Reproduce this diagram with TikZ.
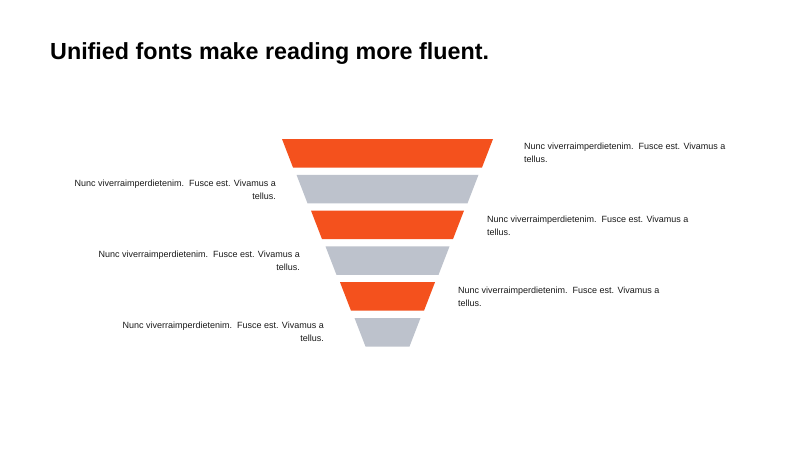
\documentclass[tikz,border=0pt]{standalone}
\usepackage{fontspec}
\setmainfont{Liberation Sans}
\definecolor{funnelorange}{RGB}{244,81,29}
\definecolor{funnelgray}{RGB}{189,194,204}
\begin{document}
\begin{tikzpicture}[x=1pt,y=-1pt,
  bodytext/.style={inner sep=0pt,font=\fontsize{9}{12.8}\selectfont,text=black!90},
  righttext/.style={bodytext,anchor=west,align=left},
  lefttext/.style={bodytext,anchor=east,align=right},
  titletext/.style={inner sep=0pt,anchor=base west,font=\fontsize{23.3}{28}\selectfont\bfseries}]
\useasboundingbox[fill=white] (0,0) rectangle (800,450);
\node[titletext] (title) at (50,59) {Unified fonts make reading more fluent.};
% funnel layers
\foreach \i/\col in {0/funnelorange,1/funnelgray,2/funnelorange,3/funnelgray,4/funnelorange,5/funnelgray}{
  \pgfmathsetmacro{\ytop}{139+35.8*\i}
  \pgfmathsetmacro{\ybot}{\ytop+28.5}
  \pgfmathsetmacro{\wt}{105.5-14.5*\i}
  \pgfmathsetmacro{\wb}{\wt-11}
  \fill[\col] (387.5-\wt,\ytop) -- (387.5+\wt,\ytop) -- (387.5+\wb,\ybot) -- (387.5-\wb,\ybot) -- cycle;
  \coordinate (layer\i) at (387.5,\ytop+14.25);
}
\node[righttext] (t1) at (524,153) {Nunc viverraimperdietenim.\ \ Fusce est. Vivamus a\\tellus.};
\node[lefttext] (t2) at (276,189.5) {Nunc viverraimperdietenim.\ \ Fusce est. Vivamus a\\tellus.};
\node[righttext] (t3) at (487,225.5) {Nunc viverraimperdietenim.\ \ Fusce est. Vivamus a\\tellus.};
\node[lefttext] (t4) at (300,261) {Nunc viverraimperdietenim.\ \ Fusce est. Vivamus a\\tellus.};
\node[righttext] (t5) at (458,297) {Nunc viverraimperdietenim.\ \ Fusce est. Vivamus a\\tellus.};
\node[lefttext] (t6) at (324,332) {Nunc viverraimperdietenim.\ \ Fusce est. Vivamus a\\tellus.};
\end{tikzpicture}
\end{document}
